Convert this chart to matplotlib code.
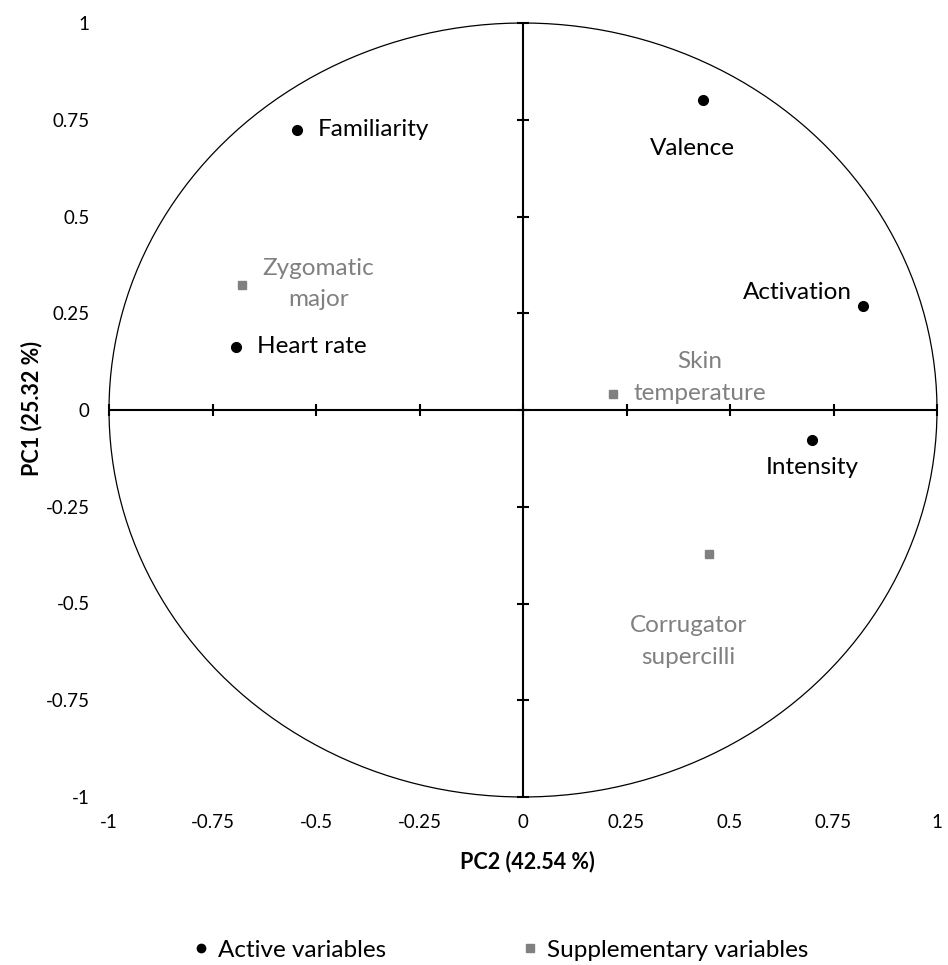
import matplotlib.pyplot as plt
import numpy as np
from matplotlib.lines import Line2D

plt.rcParams["font.family"] = ["Lato", "DejaVu Sans"]

# PCA loadings (PC2 on x, PC1 on y)
active_names = ["Familiarity", "Valence", "Activation", "Intensity", "Heart rate"]
active_pc2 = [-0.546, 0.435, 0.821, 0.698, -0.693]
active_pc1 = [0.724, 0.801, 0.269, -0.078, 0.163]

supp_names = ["Zygomatic\nmajor", "Skin\ntemperature", "Corrugator\nsupercilli"]
supp_pc2 = [-0.679, 0.217, 0.449]
supp_pc1 = [0.323, 0.041, -0.372]

ticks = [-1, -0.75, -0.5, -0.25, 0, 0.25, 0.5, 0.75, 1]
tick_labels = ["-1", "-0.75", "-0.5", "-0.25", "0", "0.25", "0.5", "0.75", "1"]

GREY = "#808080"
W, H = 948, 965
fig = plt.figure(figsize=(W / 100, H / 100), dpi=100)
ax = fig.add_axes([109 / W, 1 - 797 / H, 828 / W, 774 / H])
ax.set_xlim(-1, 1); ax.set_ylim(-1, 1)
for s in ax.spines.values(): s.set_visible(False)

ax.set_xticks(ticks, tick_labels)
ax.set_yticks(ticks, tick_labels)
ax.tick_params(axis="x", length=0, pad=12, labelsize=13.5)
ax.tick_params(axis="y", length=0, pad=14, labelsize=13.5)

# correlation circle and centred axes with cross tick marks
t = np.linspace(0, 2 * np.pi, 400)
ax.plot(np.cos(t), np.sin(t), color="black", lw=0.9, clip_on=False)
ax.axhline(0, color="black", lw=1.5)
ax.axvline(0, color="black", lw=1.5)
ax.plot(ticks, [0] * len(ticks), ls="none", marker="|", ms=9, mew=1.5, color="black", clip_on=False)
ax.plot([0] * len(ticks), ticks, ls="none", marker="_", ms=9, mew=1.5, color="black", clip_on=False)

ax.plot(active_pc2, active_pc1, ls="none", marker="o", ms=7, color="black", zorder=5)
ax.plot(supp_pc2, supp_pc1, ls="none", marker="s", ms=6, color=GREY, zorder=5)

# label offsets in points, with alignment
active_pos = [((15, 0), "left", "center"), ((-8, -35), "center", "center"),
              ((-8, 10), "right", "center"), ((0, -20), "center", "center"),
              ((15, 0), "left", "center")]
for n, x, y, (off, ha, va) in zip(active_names, active_pc2, active_pc1, active_pos):
    ax.annotate(n, (x, y), xytext=off, textcoords="offset points", ha=ha, va=va,
                fontsize=17.5, color="black")

supp_pos = [((15, 1), "left"), ((15, 12), "left"), ((-15, -63), "center")]
for n, x, y, (off, ha) in zip(supp_names, supp_pc2, supp_pc1, supp_pos):
    ax.annotate(n, (x, y), xytext=off, textcoords="offset points", ha=ha, va="center",
                multialignment="center", fontsize=17.5, color=GREY, linespacing=1.6)

fig.text(527 / W, 1 - 862 / H, "PC2 (42.54 %)", ha="center", va="center",
         fontsize=15.5, fontweight="bold")
fig.text(32 / W, 1 - 409 / H, "PC1 (25.32 %)", ha="center", va="center",
         fontsize=15.5, fontweight="bold", rotation=90)

handles = [Line2D([], [], ls="none", marker="o", ms=6, color="black"),
           Line2D([], [], ls="none", marker="s", ms=5.5, color=GREY)]
fig.legend(handles, ["Active variables", "Supplementary variables"], loc="center",
           bbox_to_anchor=(501 / W, 1 - 950 / H), ncol=2, frameon=False, fontsize=17.5,
           handlelength=0.6, handletextpad=0.4, columnspacing=5.6, borderpad=0)

fig.savefig("out.png", dpi=100)
